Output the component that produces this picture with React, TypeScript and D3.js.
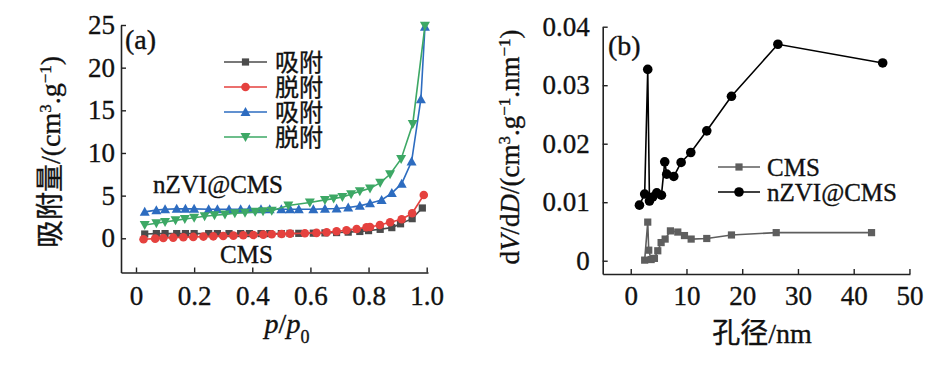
import { useRef, useEffect } from "react";
import * as d3 from "d3";

// (a) N2 adsorption / desorption isotherms
const cmsAdsP = [0.03, 0.07, 0.1, 0.14, 0.17, 0.2, 0.25, 0.28, 0.32, 0.36, 0.39, 0.43, 0.46, 0.5, 0.53, 0.56, 0.61, 0.65, 0.69, 0.73, 0.77, 0.8, 0.84, 0.88, 0.91, 0.95, 0.985];
const cmsAdsV = [0.5, 0.55, 0.55, 0.55, 0.55, 0.55, 0.55, 0.55, 0.55, 0.55, 0.55, 0.55, 0.55, 0.55, 0.57, 0.58, 0.6, 0.63, 0.67, 0.72, 0.8, 0.9, 1.05, 1.25, 1.7, 2.3, 3.55];
const cmsDesP = [0.026, 0.066, 0.094, 0.128, 0.163, 0.197, 0.232, 0.266, 0.3, 0.335, 0.369, 0.404, 0.438, 0.467, 0.501, 0.53, 0.581, 0.621, 0.656, 0.69, 0.724, 0.759, 0.793, 0.805, 0.839, 0.874, 0.914, 0.95, 0.99];
const cmsDesV = [-0.12, -0.04, 0.04, 0.08, 0.12, 0.16, 0.2, 0.23, 0.27, 0.31, 0.35, 0.39, 0.43, 0.47, 0.51, 0.55, 0.59, 0.63, 0.7, 0.82, 0.94, 1.09, 1.29, 1.33, 1.56, 1.88, 2.23, 2.93, 5.08];
const nzAdsP = [0.03, 0.07, 0.1, 0.14, 0.17, 0.2, 0.25, 0.28, 0.32, 0.36, 0.39, 0.43, 0.46, 0.5, 0.53, 0.56, 0.61, 0.65, 0.69, 0.73, 0.77, 0.805, 0.845, 0.88, 0.914, 0.948, 0.98, 0.994];
const nzAdsV = [3.1, 3.3, 3.4, 3.45, 3.45, 3.45, 3.4, 3.4, 3.4, 3.4, 3.4, 3.4, 3.4, 3.4, 3.4, 3.4, 3.4, 3.45, 3.5, 3.6, 3.8, 4.1, 4.5, 5.3, 6.4, 9.0, 16.3, 24.8];
const nzDesP = [0.03, 0.07, 0.1, 0.136, 0.168, 0.2, 0.236, 0.27, 0.306, 0.34, 0.375, 0.41, 0.437, 0.467, 0.524, 0.598, 0.65, 0.68, 0.71, 0.74, 0.77, 0.805, 0.84, 0.874, 0.912, 0.952, 0.994];
const nzDesV = [1.56, 1.76, 1.9, 2.1, 2.27, 2.4, 2.58, 2.7, 2.8, 2.93, 3.0, 3.1, 3.16, 3.24, 3.85, 4.2, 4.5, 4.65, 4.85, 5.15, 5.5, 5.85, 6.5, 7.5, 9.3, 13.4, 24.9];

// (b) pore size distribution
const cmsD = [2.5, 3.05, 3.23, 3.66, 4.25, 4.85, 5.45, 6.17, 7.12, 8.44, 9.64, 10.84, 13.64, 18.07, 26.1, 43.2];
const cmsDv = [0.0001, 0.0066, 0.0018, 0.0002, 0.0004, 0.0017, 0.0031, 0.0037, 0.0051, 0.0049, 0.0043, 0.0037, 0.0038, 0.0044, 0.0048, 0.0048];
const nzD = [1.56, 2.5, 3.05, 3.36, 3.95, 4.67, 5.51, 6.1, 6.46, 7.72, 9.04, 10.77, 13.64, 18.07, 26.4, 45.2];
const nzDv = [0.0095, 0.0114, 0.0327, 0.0102, 0.0109, 0.0116, 0.0112, 0.0169, 0.0148, 0.0144, 0.0168, 0.0185, 0.0222, 0.0281, 0.037, 0.0338];

const xTicksA = [0, 0.2, 0.4, 0.6, 0.8, 1.0];
const yTicksA = [0, 5, 10, 15, 20, 25];
const xTicksB = [0, 10, 20, 30, 40, 50];
const yTicksB = [0, 0.01, 0.02, 0.03, 0.04];
const legendA = ["吸附", "脱附", "吸附", "脱附"];
const legendB = ["CMS", "nZVI@CMS"];

const FONT = "Liberation Serif, Noto Sans CJK SC, serif";
const C_GRAY = "#4b4b4b";
const C_RED = "#e5413e";
const C_BLUE = "#2d6cc0";
const C_GREEN = "#3da865";
const C_GRAY_B = "#5e5e5e";

type Sel = d3.Selection<SVGGElement, unknown, null, undefined>;

function marker(g: Sel, kind: string, x: number, y: number, color: string) {
  if (kind === "square") {
    g.append("rect").attr("x", x - 3.6).attr("y", y - 3.6).attr("width", 7.2).attr("height", 7.2).attr("fill", color);
  } else if (kind === "circle") {
    g.append("circle").attr("cx", x).attr("cy", y).attr("r", 4.3).attr("fill", color);
  } else if (kind === "up") {
    g.append("path").attr("d", `M${x},${y - 5}L${x + 5},${y + 4}L${x - 5},${y + 4}Z`).attr("fill", color);
  } else {
    g.append("path").attr("d", `M${x},${y + 5}L${x + 5},${y - 4}L${x - 5},${y - 4}Z`).attr("fill", color);
  }
}

function styleAxis(a: Sel) {
  a.attr("font-family", null).attr("font-size", null);
  a.select(".domain").attr("stroke", "#222").attr("stroke-width", 1.6);
  a.selectAll(".tick line").attr("stroke", "#222").attr("stroke-width", 1.4);
  a.selectAll("text").style("font-family", FONT).style("font-size", "27px").attr("fill", "#111");
}

export default function App() {
  const svgRef = useRef<SVGSVGElement | null>(null);

  useEffect(() => {
    if (!svgRef.current) return;
    const svg = d3.select(svgRef.current);
    svg.selectAll("*").remove();

    // ---------- panel (a) ----------
    const xA = d3.scaleLinear().domain([-0.0516, 1.0045]).range([121, 428]);
    const yA = d3.scaleLinear().domain([-4.01, 25]).range([272.5, 25]);

    const gA = svg.append("g") as unknown as Sel;
    const seriesA = [
      { p: cmsAdsP, v: cmsAdsV, color: C_GRAY, kind: "square" },
      { p: cmsDesP, v: cmsDesV, color: C_RED, kind: "circle" },
      { p: nzAdsP, v: nzAdsV, color: C_BLUE, kind: "up" },
      { p: nzDesP, v: nzDesV, color: C_GREEN, kind: "down" },
    ];
    seriesA.forEach((s) => {
      const pts = s.p.map((p, i) => [xA(p), yA(s.v[i])] as [number, number]);
      gA.append("path")
        .attr("d", d3.line()(pts))
        .attr("fill", "none")
        .attr("stroke", s.color)
        .attr("stroke-width", 1.6);
      pts.forEach(([x, y]) => marker(gA, s.kind, x, y, s.color));
    });

    const axA = gA.append("g").attr("transform", "translate(0,272.5)")
      .call(d3.axisBottom(xA).tickValues(xTicksA).tickSize(-5).tickSizeOuter(0).tickPadding(13)
        .tickFormat((d) => (d === 0 ? "0" : d3.format(".1f")(d as number)))) as unknown as Sel;
    const ayA = gA.append("g").attr("transform", "translate(121,0)")
      .call(d3.axisLeft(yA).tickValues(yTicksA).tickSize(-5).tickSizeOuter(0).tickPadding(6)) as unknown as Sel;
    styleAxis(axA);
    styleAxis(ayA);

    gA.append("text").attr("x", 125).attr("y", 49).style("font-size", "28px").text("(a)");
    gA.append("text").attr("x", 153).attr("y", 193).style("font-size", "25px").text("nZVI@CMS");
    gA.append("text").attr("x", 220).attr("y", 263).style("font-size", "25px").text("CMS");

    seriesA.forEach((s, i) => {
      const ly = 62 + i * 25;
      gA.append("line").attr("x1", 224).attr("x2", 267).attr("y1", ly).attr("y2", ly)
        .attr("stroke", s.color).attr("stroke-width", 1.6);
      marker(gA, s.kind, 245.5, ly, s.color);
      gA.append("text").attr("x", 275).attr("y", ly).attr("dy", "0.36em")
        .style("font-size", "24px").text(legendA[i]);
    });

    const yLabA = gA.append("text").attr("transform", "translate(60,152) rotate(-90)")
      .attr("text-anchor", "middle").style("font-size", "28px");
    yLabA.append("tspan").text("吸附量/(cm");
    yLabA.append("tspan").attr("baseline-shift", "super").style("font-size", "17px").text("3");
    yLabA.append("tspan").text(".g");
    yLabA.append("tspan").attr("baseline-shift", "super").style("font-size", "17px").text("−1");
    yLabA.append("tspan").text(")");

    const xLabA = gA.append("text").attr("x", 287).attr("y", 333).attr("text-anchor", "middle")
      .style("font-size", "28px");
    xLabA.append("tspan").attr("font-style", "italic").text("p");
    xLabA.append("tspan").text("/");
    xLabA.append("tspan").attr("font-style", "italic").text("p");
    xLabA.append("tspan").attr("baseline-shift", "sub").style("font-size", "18px").text("0");

    // ---------- panel (b) ----------
    const xB = d3.scaleLinear().domain([-5.03, 50.1]).range([602.7, 910]);
    const yB = d3.scaleLinear().domain([-0.00227, 0.04]).range([274, 26.7]);
    const gB = svg.append("g") as unknown as Sel;

    const seriesB = [
      { d: cmsD, v: cmsDv, color: C_GRAY_B, kind: "square" },
      { d: nzD, v: nzDv, color: "#000", kind: "circle" },
    ];
    seriesB.forEach((s) => {
      const pts = s.d.map((d, i) => [xB(d), yB(s.v[i])] as [number, number]);
      gB.append("path").attr("d", d3.line()(pts)).attr("fill", "none")
        .attr("stroke", s.color).attr("stroke-width", 1.6);
      pts.forEach(([x, y]) => {
        if (s.kind === "circle") {
          gB.append("circle").attr("cx", x).attr("cy", y).attr("r", 4.8).attr("fill", s.color);
        } else {
          marker(gB, s.kind, x, y, s.color);
        }
      });
    });

    const axB = gB.append("g").attr("transform", "translate(0,274)")
      .call(d3.axisBottom(xB).tickValues(xTicksB).tickSize(-5).tickSizeOuter(0).tickPadding(12)) as unknown as Sel;
    const ayB = gB.append("g").attr("transform", "translate(602.7,0)")
      .call(d3.axisLeft(yB).tickValues(yTicksB).tickSize(-5).tickSizeOuter(0).tickPadding(13)
        .tickFormat((d) => (d === 0 ? "0" : d3.format(".2f")(d as number)))) as unknown as Sel;
    styleAxis(axB);
    styleAxis(ayB);

    gB.append("text").attr("x", 608).attr("y", 55).style("font-size", "28px").text("(b)");

    seriesB.forEach((s, i) => {
      const ly = 167 + i * 25;
      gB.append("line").attr("x1", 718).attr("x2", 760).attr("y1", ly).attr("y2", ly)
        .attr("stroke", s.color).attr("stroke-width", 1.6);
      if (s.kind === "circle") gB.append("circle").attr("cx", 739).attr("cy", ly).attr("r", 4.8).attr("fill", s.color);
      else marker(gB, s.kind, 739, ly, s.color);
      gB.append("text").attr("x", 767).attr("y", ly).attr("dy", "0.34em")
        .style("font-size", "25px").text(legendB[i]);
    });

    const yLabB = gB.append("text").attr("transform", "translate(519,147) rotate(-90)")
      .attr("text-anchor", "middle").style("font-size", "27px");
    yLabB.append("tspan").text("d");
    yLabB.append("tspan").attr("font-style", "italic").text("V");
    yLabB.append("tspan").text("/d");
    yLabB.append("tspan").attr("font-style", "italic").text("D");
    yLabB.append("tspan").text("/(cm");
    yLabB.append("tspan").attr("baseline-shift", "super").style("font-size", "17px").text("3");
    yLabB.append("tspan").text(".g");
    yLabB.append("tspan").attr("baseline-shift", "super").style("font-size", "17px").text("−1");
    yLabB.append("tspan").text(".nm");
    yLabB.append("tspan").attr("baseline-shift", "super").style("font-size", "17px").text("−1");
    yLabB.append("tspan").text(")");

    gB.append("text").attr("x", 762).attr("y", 343).attr("text-anchor", "middle")
      .style("font-size", "28px").text("孔径/nm");

    // slightly heavier text, as in the scanned figure
    svg.selectAll("text").attr("stroke", "#111").attr("stroke-width", 0.35);
  }, []);

  return (
    <svg
      ref={svgRef}
      width={945}
      height={367}
      viewBox="0 0 945 367"
      style={{ position: "absolute", left: 0, top: 0, background: "#fff", fontFamily: FONT, fill: "#111" }}
    ></svg>
  );
}
